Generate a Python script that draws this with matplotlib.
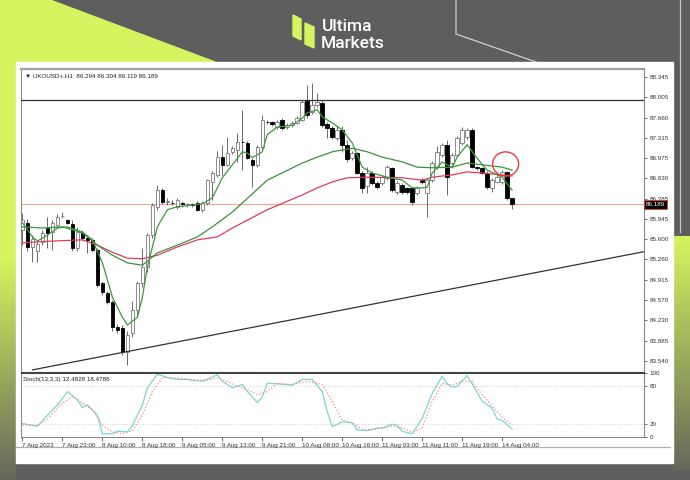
import matplotlib.pyplot as plt
from matplotlib.patches import Polygon, Ellipse, Rectangle
import numpy as np

# UKOUSD+ H1 candles (bar 0 = 7 Aug 2023)
opens = [85.76, 85.88, 85.47, 85.40, 85.55, 85.79, 85.72, 85.84, 85.99, 85.93,
         85.86, 85.45, 85.71, 85.62, 85.58, 85.42, 84.86, 84.69, 84.54, 84.12,
         84.10, 83.69, 84.01, 84.40, 84.86, 85.13, 85.67, 86.15, 86.43, 86.23,
         86.22, 86.15, 86.22, 86.18, 86.19, 86.21, 86.10, 86.21, 86.57, 86.69,
         86.99, 86.86, 87.07, 87.11, 87.25, 87.23, 86.94, 86.86, 87.16, 87.59,
         87.58, 87.50, 87.62, 87.50, 87.53, 87.57, 87.62, 87.96, 87.75, 87.87,
         87.91, 87.55, 87.49, 87.31, 87.45, 87.20, 86.98, 87.06, 86.72, 86.50,
         86.72, 86.55, 86.55, 86.64, 86.80, 86.40, 86.52, 86.46, 86.46, 86.38,
         86.60, 86.38, 86.60, 86.82, 87.03, 87.20, 86.89, 87.03, 87.23, 87.33,
         87.45, 86.82, 86.80, 86.72, 86.47, 86.57, 86.57, 86.73, 86.294]
highs = [86.04, 85.95, 85.68, 85.58, 85.75, 85.98, 85.92, 86.02, 86.06, 85.95,
         85.92, 85.80, 85.75, 85.66, 85.62, 85.45, 84.90, 84.72, 84.58, 84.17,
         84.15, 84.05, 84.55, 84.90, 85.45, 85.70, 86.22, 86.52, 86.47, 86.30,
         86.26, 86.30, 86.24, 86.22, 86.22, 86.24, 86.25, 86.62, 86.76, 87.10,
         87.20, 87.33, 87.18, 87.40, 87.79, 87.26, 86.97, 87.20, 87.70, 87.62,
         87.60, 87.61, 87.65, 87.56, 87.60, 87.68, 87.96, 88.21, 88.24, 88.07,
         87.95, 87.58, 87.52, 87.52, 87.52, 87.28, 87.10, 87.08, 86.75, 86.82,
         86.75, 86.58, 86.68, 86.85, 86.83, 86.58, 86.55, 86.49, 86.49, 86.50,
         86.63, 86.64, 86.92, 87.18, 87.23, 87.28, 87.06, 87.35, 87.50, 87.48,
         87.48, 86.84, 86.83, 86.75, 86.63, 86.68, 86.78, 86.76, 86.304]
lows = [85.50, 85.40, 85.22, 85.22, 85.50, 85.45, 85.42, 85.80, 85.96, 85.85,
        85.40, 85.40, 85.58, 85.37, 85.38, 84.80, 84.66, 84.50, 84.05, 84.01,
        83.65, 83.47, 83.95, 84.30, 84.80, 85.05, 85.62, 86.10, 86.20, 86.18,
        86.18, 86.12, 86.15, 86.15, 86.15, 86.08, 86.06, 86.18, 86.26, 86.65,
        86.69, 86.84, 87.04, 86.90, 86.77, 86.95, 86.48, 86.83, 87.12, 87.55,
        87.52, 87.47, 87.45, 87.47, 87.50, 87.55, 87.60, 87.66, 87.72, 87.84,
        87.50, 87.31, 87.30, 87.28, 87.08, 86.90, 86.94, 86.70, 86.38, 86.38,
        86.52, 86.45, 86.52, 86.60, 86.40, 86.36, 86.36, 86.37, 86.18, 86.35,
        86.54, 85.98, 86.57, 86.79, 87.00, 86.35, 86.86, 87.00, 87.20, 87.30,
        86.80, 86.78, 86.70, 86.45, 86.40, 86.55, 86.54, 86.26, 86.119]
closes = [85.93, 85.47, 85.60, 85.52, 85.71, 85.71, 85.88, 85.98, 86.00, 85.88,
          85.45, 85.72, 85.62, 85.58, 85.42, 84.83, 84.71, 84.54, 84.12, 84.06,
          83.69, 83.98, 84.40, 84.86, 85.13, 85.67, 86.18, 86.43, 86.23, 86.24,
          86.21, 86.26, 86.19, 86.19, 86.18, 86.10, 86.21, 86.60, 86.72, 86.99,
          86.86, 87.06, 87.14, 87.25, 87.24, 86.98, 86.86, 87.16, 87.62, 87.58,
          87.55, 87.58, 87.48, 87.53, 87.56, 87.65, 87.92, 87.70, 87.87, 87.92,
          87.53, 87.49, 87.33, 87.45, 87.20, 86.95, 87.06, 86.72, 86.47, 86.72,
          86.55, 86.48, 86.65, 86.82, 86.43, 86.55, 86.40, 86.40, 86.23, 86.47,
          86.57, 86.60, 86.89, 87.08, 87.20, 86.65, 87.03, 87.31, 87.45, 87.45,
          86.82, 86.80, 86.72, 86.48, 86.60, 86.65, 86.74, 86.29, 86.189]

# moving averages (bar index, price)
ma_fast_idx = [0, 2, 3, 5, 7, 9, 12, 14, 16, 18, 20, 21, 23, 24, 25, 27, 29, 31, 34, 36,
               38, 40, 42, 44, 45, 46, 48, 49, 51, 54, 56, 57, 59, 60, 62, 64, 66, 68, 70,
               73, 76, 78, 80, 81, 82, 84, 86, 87, 89, 91, 93, 95, 96, 98]
ma_fast = [85.88, 85.64, 85.57, 85.67, 85.79, 85.81, 85.72, 85.59, 85.20, 84.62, 84.28,
           84.15, 84.28, 84.62, 85.13, 85.81, 86.10, 86.15, 86.18, 86.20, 86.30, 86.64,
           86.86, 87.08, 87.06, 86.98, 87.08, 87.37, 87.50, 87.53, 87.65, 87.74, 87.79,
           87.67, 87.57, 87.45, 87.23, 86.82, 86.72, 86.65, 86.60, 86.47, 86.47, 86.48,
           86.72, 86.91, 86.81, 86.99, 87.20, 86.97, 86.77, 86.69, 86.65, 86.43]
ma_mid_idx = [0, 4, 8, 12, 15, 18, 21, 24, 27, 31, 35, 38, 42, 49, 56, 59, 62, 66, 69,
              72, 76, 79, 82, 86, 89, 92, 96, 98]
ma_mid = [85.81, 85.79, 85.81, 85.71, 85.50, 85.33, 85.20, 85.16, 85.37, 85.50, 85.64,
          85.81, 86.06, 86.60, 86.89, 86.99, 87.08, 87.14, 87.08, 86.99, 86.91, 86.82,
          86.81, 86.82, 86.89, 86.86, 86.82, 86.77]
ma_slow_idx = [0, 6, 12, 15, 18, 21, 24, 27, 31, 35, 39, 42, 49, 56, 59, 62, 65, 69, 76,
               80, 82, 86, 89, 92, 96, 98]
ma_slow = [85.54, 85.57, 85.59, 85.50, 85.38, 85.28, 85.27, 85.33, 85.47, 85.59, 85.64,
           85.79, 86.10, 86.35, 86.47, 86.57, 86.64, 86.65, 86.64, 86.60, 86.65, 86.69,
           86.74, 86.72, 86.69, 86.67]

# Stochastic(13,3,3)
stoch_idx = [0, 3, 5, 7, 9, 11, 12, 13, 15, 16, 18, 19, 21, 22, 24, 25, 27, 29, 31, 33,
             36, 39, 40, 42, 44, 45, 47, 48, 49, 51, 54, 56, 58, 60, 61, 62, 64, 66, 67,
             69, 71, 72, 74, 75, 76, 78, 80, 82, 84, 85, 86, 87, 89, 90, 92, 94, 95, 96, 98]
stoch_main = [21, 17, 34, 50, 71, 58, 46, 50, 34, 5, 5, 9, 8, 18, 50, 77, 98, 93, 90, 90,
              87, 97, 87, 77, 82, 71, 54, 63, 84, 83, 81, 90, 90, 71, 39, 16, 24, 22, 11,
              10, 14, 14, 20, 18, 9, 5, 29, 68, 95, 83, 78, 79, 96, 83, 56, 45, 28, 26, 12.48]
sig_idx = [0, 3, 5, 8, 10, 12, 14, 16, 18, 20, 22, 24, 26, 28, 31, 34, 37, 39, 41, 43, 45,
           47, 49, 51, 54, 57, 60, 62, 64, 66, 68, 70, 72, 74, 76, 78, 80, 82, 84, 86, 88,
           90, 92, 94, 96, 98]
stoch_sig = [19, 18, 28, 53, 63, 53, 43, 18, 8, 5, 10, 34, 71, 93, 92, 89, 89, 92, 87, 79,
             74, 66, 71, 84, 82, 87, 82, 55, 26, 22, 12, 11, 14, 17, 14, 8, 14, 55, 84, 81,
             87, 87, 66, 48, 31, 18.48]

price_ticks = [88.345, 88.005, 87.660, 87.315, 86.975, 86.630, 86.285, 85.945,
               85.600, 85.260, 84.915, 84.570, 84.230, 83.885, 83.540]
time_labels = ['7 Aug 2023', '7 Aug 23:00', '8 Aug 10:00', '8 Aug 18:00', '9 Aug 05:00',
               '9 Aug 13:00', '9 Aug 21:00', '10 Aug 08:00', '10 Aug 16:00',
               '11 Aug 03:00', '11 Aug 11:00', '11 Aug 19:00', '14 Aug 04:00']
time_idx = [0, 8, 16, 24, 32, 40, 48, 56, 64, 72, 80, 88, 96]

resistance = 87.95
trend_x = [2, 124.4]
trend_y = [83.39, 85.39]
last_price = 86.189

W, H = 690, 480
LIME = '#d4f55f'
GRAY = '#5e5e5e'
FS = 4.5
MTF = 'Liberation Sans'

fig = plt.figure(figsize=(6.9, 4.8), dpi=100, facecolor=GRAY)


def box(l, t, r, b):
    return [l / W, 1 - b / H, (r - l) / W, (b - t) / H]


# ---- background / branding ----
bg = fig.add_axes([0, 0, 1, 1], zorder=-10)
bg.axis('off')

grad = np.linspace(0, 1, 256)[:, None]
c0 = np.array([0xd4, 0xf5, 0x5f]) / 255
c1 = np.array([0x66, 0x68, 0x5a]) / 255
img = c0 + (c1 - c0) * grad[..., None]
img = np.repeat(img, 2, axis=1)

# left lime area
bg.add_patch(Polygon([(0, 0), (50, 0), (215, 62), (0, 62)], color=LIME, zorder=1))
bg.add_patch(Rectangle((0, 60), 16, 200, color=LIME, zorder=1))
bg.imshow(img, extent=[0, 16, 480, 258], aspect='auto', zorder=1)
# right lime area
right_poly = Polygon([(673, 230), (690, 236), (690, 480), (673, 480)], color='none')
bg.add_patch(right_poly)
im = bg.imshow(img, extent=[673, 690, 470, 236], aspect='auto', zorder=1)
im.set_clip_path(right_poly)
bg.set_xlim(0, W)
bg.set_ylim(H, 0)

# thin outline lines top right
bg.plot([456, 456, 536], [0, 34, 62], color='#d0d0d0', lw=0.9, zorder=2)
bg.plot([680, 680], [0, 232], color='#c8c8c8', lw=0.9, zorder=2)

# logo
bg.add_patch(Polygon([(293, 15), (301, 19), (301, 40), (293, 36)], color=LIME, zorder=2))
bg.add_patch(Polygon([(305, 23), (314, 27), (314, 48), (305, 44)], color=LIME, zorder=2))
bg.text(322, 31, 'Ultima', color='white', fontsize=12.5, family='Roboto',
        fontweight='medium', va='baseline')
bg.text(321, 47.5, 'Markets', color='white', fontsize=12.5, family='Roboto',
        fontweight='medium', va='baseline')

# white chart window
bg.add_patch(Rectangle((16, 62), 657, 401, color='white', zorder=3))
bg.plot([16, 670], [447, 447], color='#b0b0b0', lw=0.9, zorder=4)
bg.plot([519], [70.5], marker='v', color='#a0a0a0', ms=3, zorder=4)

# ---- main price panel ----
ax = fig.add_axes(box(21, 69, 644, 372))
ax.set_xlim(-0.3, 124.4)
ax.set_ylim(83.354, 88.481)

for i in range(len(closes)):
    o, h, l, c = opens[i], highs[i], lows[i], closes[i]
    ax.vlines(i, l, h, color='#6a6a6a', lw=0.7, zorder=2)
    lo, hi = min(o, c), max(o, c)
    hgt = max(hi - lo, 0.012)
    if c >= o:
        ax.bar(i, hgt, bottom=lo, width=0.72, color='white', edgecolor='#7a7a7a',
               linewidth=0.6, zorder=3)
    else:
        ax.bar(i, hgt, bottom=lo, width=0.72, color='black', edgecolor='black',
               linewidth=0.6, zorder=3)

ax.plot(ma_slow_idx, ma_slow, color='#e23a5c', lw=0.9, zorder=4)
ax.plot(ma_mid_idx, ma_mid, color='#3b923b', lw=0.9, zorder=4)
ax.plot(ma_fast_idx, ma_fast, color='#3b9a3b', lw=0.9, zorder=4)

ax.axhline(resistance, color='#333333', lw=0.9, zorder=5)
ax.axhline(last_price, color='#f5a48e', lw=0.8, zorder=1)
ax.plot(trend_x, trend_y, color='#333333', lw=0.9, zorder=5)
ax.add_patch(Ellipse((96.7, 86.873), 5.2, 0.41, fill=False, edgecolor='#e83a3a',
                     lw=1.0, zorder=6))

ax.yaxis.tick_right()
ax.set_yticks(price_ticks)
ax.set_yticklabels([f'{p:.3f}' for p in price_ticks], family=MTF)
ax.tick_params(axis='y', labelsize=FS, length=2, width=0.5, pad=2, colors='#333333')
ax.set_xticks([])
for s in ax.spines.values():
    s.set_color('#8a8a8a')
    s.set_linewidth(0.8)
ax.spines['top'].set_linewidth(1.6)
ax.spines['top'].set_color('#a0a0a0')
ax.spines['bottom'].set_color('#444444')

ax.text(0.006, 0.985, '\u25BC UKOUSD+,H1  86.294 86.304 86.119 86.189',
        transform=ax.transAxes, fontsize=FS, va='top', ha='left', color='#222222',
        family=[MTF, 'DejaVu Sans'])
ax.annotate(f'{last_price:.3f}', xy=(1.0, last_price), xycoords=('axes fraction', 'data'),
            xytext=(1.5, 0), textcoords='offset points', fontsize=FS, color='white',
            va='center', ha='left', family=MTF,
            bbox=dict(boxstyle='square,pad=0.3', fc='black', ec='#e84020', lw=0.6))

# ---- stochastic panel ----
sx = fig.add_axes(box(21, 373, 644, 437))
sx.set_xlim(-0.3, 124.4)
sx.set_ylim(0, 100)
sx.axhline(80, color='#c8c8c8', lw=0.6, ls=':')
sx.axhline(20, color='#c8c8c8', lw=0.6, ls=':')
sx.plot(stoch_idx, stoch_main, color='#78d8d0', lw=0.9)
sx.plot(sig_idx, stoch_sig, color='#f08a8a', lw=0.9, ls=':')
sx.yaxis.tick_right()
sx.set_yticks([0, 20, 80, 100])
sx.set_yticklabels(['0', '20', '80', '100'], family=MTF)
sx.tick_params(axis='y', labelsize=FS, length=2, width=0.5, pad=2, colors='#333333')
sx.set_xticks(time_idx)
sx.set_xticklabels(time_labels, ha='left', family=MTF)
sx.tick_params(axis='x', labelsize=FS, length=3, width=0.5, pad=1.5, colors='#333333')
for s in sx.spines.values():
    s.set_color('#8a8a8a')
    s.set_linewidth(0.8)
sx.spines['top'].set_color('#444444')
sx.text(0.004, 0.93, 'Stoch(13,3,3) 12.4828 18.4788', transform=sx.transAxes,
        fontsize=FS, va='top', ha='left', color='#222222', family=MTF)

plt.savefig('out.png', dpi=100, facecolor=GRAY)
